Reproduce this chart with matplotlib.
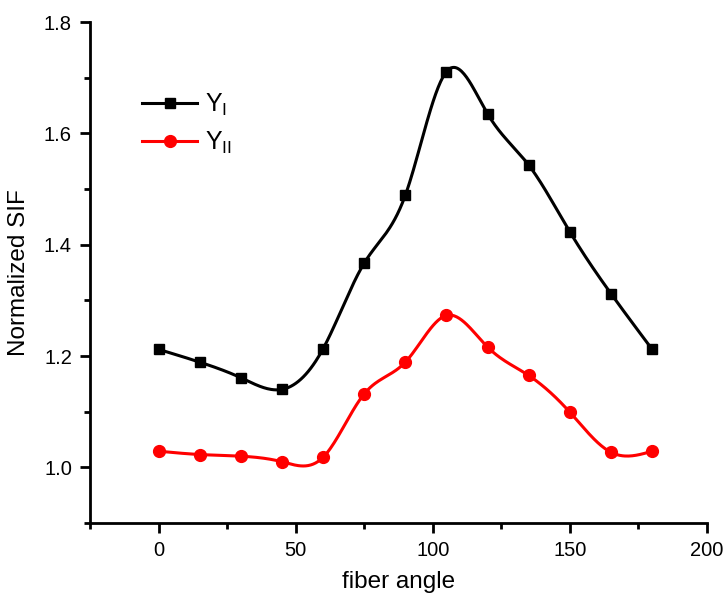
import numpy as np
import matplotlib
matplotlib.use("Agg")
import matplotlib.pyplot as plt
from matplotlib.ticker import MultipleLocator, FormatStrFormatter

plt.rcParams['font.family'] = ['Liberation Sans', 'DejaVu Sans']
plt.rcParams['mathtext.fontset'] = 'custom'
plt.rcParams['mathtext.rm'] = 'Liberation Sans'

angles = [0, 15, 30, 45, 60, 75, 90, 105, 120, 135, 150, 165, 180]
y_I = [1.212, 1.189, 1.161, 1.140, 1.213, 1.367, 1.489, 1.711, 1.635, 1.543, 1.423, 1.312, 1.212]
y_II = [1.029, 1.023, 1.020, 1.010, 1.018, 1.132, 1.189, 1.273, 1.216, 1.165, 1.099, 1.027, 1.029]


def natural_spline(x, y, n=400):
    x = np.asarray(x, float); y = np.asarray(y, float)
    m = len(x); h = np.diff(x)
    A = np.zeros((m, m)); r = np.zeros(m)
    A[0, 0] = 1; A[-1, -1] = 1
    for i in range(1, m - 1):
        A[i, i - 1] = h[i - 1]; A[i, i] = 2 * (h[i - 1] + h[i]); A[i, i + 1] = h[i]
        r[i] = 3 * ((y[i + 1] - y[i]) / h[i] - (y[i] - y[i - 1]) / h[i - 1])
    c = np.linalg.solve(A, r)
    b = (y[1:] - y[:-1]) / h - h * (2 * c[:-1] + c[1:]) / 3
    d = (c[1:] - c[:-1]) / (3 * h)
    xs = np.linspace(x[0], x[-1], n)
    idx = np.clip(np.searchsorted(x, xs) - 1, 0, m - 2)
    t = xs - x[idx]
    ys = y[idx] + b[idx] * t + c[idx] * t ** 2 + d[idx] * t ** 3
    return xs, ys


fig = plt.figure(figsize=(7.24, 5.97), dpi=100)
ax = fig.add_axes([0.1243, 0.124, 0.8522, 0.839])

for yv, col, mk, ms, lab in [(y_I, 'black', 's', 7.5, r'Y$_{\mathrm{I}}$'),
                             (y_II, 'red', 'o', 8.5, r'Y$_{\mathrm{II}}$')]:
    xs, ys = natural_spline(angles, yv)
    ax.plot(xs, ys, color=col, lw=2.2)
    ax.plot(angles, yv, linestyle='none', marker=mk, ms=ms, color=col)
    ax.plot([], [], color=col, lw=2.2, marker=mk, ms=ms, label=lab)

ax.set_xlim(-25, 200)
ax.set_ylim(0.9, 1.8)
ax.xaxis.set_major_locator(MultipleLocator(50))
ax.xaxis.set_minor_locator(MultipleLocator(25))
ax.yaxis.set_major_locator(MultipleLocator(0.2))
ax.yaxis.set_minor_locator(MultipleLocator(0.1))
ax.yaxis.set_major_formatter(FormatStrFormatter('%.1f'))
ax.set_yticks([1.0, 1.2, 1.4, 1.6, 1.8])
for s in ['top', 'right']:
    ax.spines[s].set_visible(False)
for s in ['left', 'bottom']:
    ax.spines[s].set_linewidth(2)
ax.tick_params(which='major', direction='out', length=7, width=2, labelsize=14.5, pad=6)
ax.tick_params(which='minor', direction='out', length=4, width=2)

ax.set_xlabel('fiber angle', fontsize=17.5, labelpad=8)
ax.set_ylabel('Normalized SIF', fontsize=17.5, labelpad=10)

leg = ax.legend(loc='upper left', bbox_to_anchor=(0.048, 0.905), frameon=False,
                fontsize=18, handlelength=2.2, handletextpad=0.3, labelspacing=0.45)

fig.savefig('out.png', dpi=100)
